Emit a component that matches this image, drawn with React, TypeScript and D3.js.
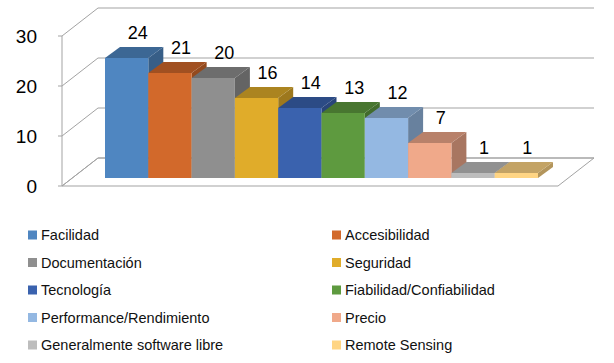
import React from "react";
import * as d3 from "d3";

const categories = [
  "Facilidad",
  "Accesibilidad",
  "Documentación",
  "Seguridad",
  "Tecnología",
  "Fiabilidad/Confiabilidad",
  "Performance/Rendimiento",
  "Precio",
  "Generalmente software libre",
  "Remote Sensing",
];
const values = [24, 21, 20, 16, 14, 13, 12, 7, 1, 1];
const colors = [
  "#4F86C1",
  "#D2692B",
  "#8F8F8F",
  "#E0AC2A",
  "#3A62AE",
  "#5E9A3F",
  "#94B8E2",
  "#F0A98A",
  "#BDBDBD",
  "#FFD584",
];
const yTicks = [0, 10, 20, 30];

const W = 614;
const H = 363;
const FONT = "'Liberation Sans', Arial, sans-serif";

export default function App() {
  // front plane of the walls
  const yFront = d3.scaleLinear().domain([0, 30]).range([186, 36]);
  const axisX = 62;
  const wallDX = 36;
  const wallDY = -28;
  const floorRight = 558;
  // bars' front plane
  const yBar = d3.scaleLinear().domain([0, 30]).range([178, 28]);
  const x = d3.scaleBand<string>().domain(categories).range([105, 538]).padding(0);
  const bw = x.bandwidth();
  const bDX = 15;
  const bDY = -11;
  const grid = "#a3a3a3";

  const pts = (arr: number[][]) => arr.map((p) => p.join(",")).join(" ");

  return (
    <svg
      width={W}
      height={H}
      style={{ position: "absolute", left: 0, top: 0, background: "#fff" }}
      fontFamily={FONT}
    >
      <rect x={0} y={0} width={W} height={H} fill="#fff" />
      {/* floor */}
      <polygon
        points={pts([
          [axisX, yFront(0)],
          [floorRight, yFront(0)],
          [floorRight + wallDX, yFront(0) + wallDY],
          [axisX + wallDX, yFront(0) + wallDY],
        ])}
        fill="#fff"
        stroke={grid}
        strokeWidth={1}
      />
      {/* gridlines: side wall diagonals + back wall horizontals */}
      {yTicks.map((t) => (
        <g key={t}>
          <line
            x1={axisX}
            y1={yFront(t)}
            x2={axisX + wallDX}
            y2={yFront(t) + wallDY}
            stroke={grid}
          />
          <line
            x1={axisX + wallDX}
            y1={yFront(t) + wallDY}
            x2={floorRight + wallDX}
            y2={yFront(t) + wallDY}
            stroke={grid}
          />
          <line x1={axisX - 4} y1={yFront(t)} x2={axisX} y2={yFront(t)} stroke={grid} />
          <text
            x={37}
            y={yFront(t)}
            dy="0.36em"
            textAnchor="end"
            fontSize={19}
            fill="#000"
          >
            {t}
          </text>
        </g>
      ))}
      {/* vertical axis */}
      <line x1={axisX} y1={yFront(30)} x2={axisX} y2={yFront(0)} stroke={grid} />
      {/* bars */}
      {categories.map((c, i) => {
        const x0 = x(c)!;
        const x1 = x0 + bw;
        const yt = yBar(values[i]);
        const yb = yBar(0);
        const col = d3.color(colors[i])!;
        const top = col.darker(0.75).formatHex();
        const side = col.darker(1.0).formatHex();
        return (
          <g key={c}>
            <polygon
              points={pts([
                [x1, yt],
                [x1 + bDX, yt + bDY],
                [x1 + bDX, yb + bDY],
                [x1, yb],
              ])}
              fill={side}
            />
            <polygon
              points={pts([
                [x0, yt],
                [x0 + bDX, yt + bDY],
                [x1 + bDX, yt + bDY],
                [x1, yt],
              ])}
              fill={top}
            />
            <rect x={x0} y={yt} width={bw} height={yb - yt} fill={colors[i]} />
          </g>
        );
      })}
      {/* value labels */}
      {categories.map((c, i) => (
        <text
          key={"l" + c}
          x={x(c)! + bw / 2 + 11}
          y={yBar(values[i]) - 19}
          textAnchor="middle"
          fontSize={18}
          fill="#000"
        >
          {values[i]}
        </text>
      ))}
      {/* legend */}
      {categories.map((c, i) => {
        const col = i % 2;
        const row = Math.floor(i / 2);
        const cy = 235 + row * 27.5;
        const sx = col === 0 ? 28 : 332;
        return (
          <g key={"lg" + c}>
            <rect x={sx} y={cy - 4.5} width={9} height={9} fill={colors[i]} />
            <text x={sx + 13} y={cy} dy="0.36em" fontSize={14.5} fill="#111">
              {c}
            </text>
          </g>
        );
      })}
    </svg>
  );
}
